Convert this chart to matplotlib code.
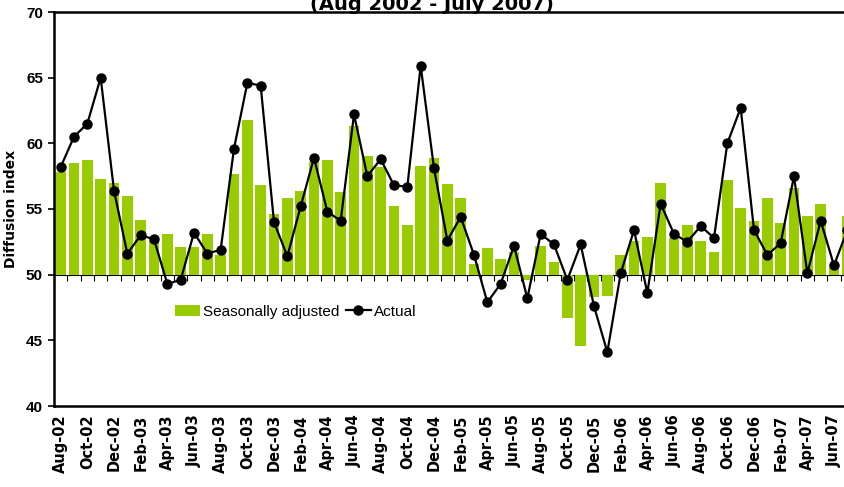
import matplotlib
matplotlib.use("Agg")
import matplotlib.pyplot as plt
import numpy as np

# ---- data ----
actual = [58.2, 60.5, 61.5, 65.0, 56.4, 51.6, 53.0, 52.7, 49.3, 49.6,
          53.2, 51.6, 51.9, 59.6, 64.6, 64.4, 54.0, 51.4, 55.2, 58.9,
          54.8, 54.1, 62.2, 57.5, 58.8, 56.8, 56.7, 65.9, 58.1, 52.6,
          54.4, 51.5, 47.9, 49.3, 52.2, 48.2, 53.1, 52.3, 49.6, 52.3,
          47.6, 44.1, 50.1, 53.4, 48.6, 55.4, 53.1, 52.5, 53.7, 52.8,
          60.0, 62.7, 53.4, 51.5, 52.4, 57.5, 50.1, 54.1, 50.7, 53.4]
seasonally_adjusted = [57.8, 58.5, 58.7, 57.3, 57.0, 56.0, 54.2, 52.6, 53.1, 52.1,
                       52.1, 53.1, 51.5, 57.7, 61.8, 56.8, 54.6, 55.8, 56.4, 58.6,
                       58.7, 56.3, 61.3, 59.0, 58.2, 55.2, 53.8, 58.3, 58.9, 56.9,
                       55.8, 50.8, 52.0, 51.2, 51.7, 49.6, 52.2, 51.0, 46.7, 44.6,
                       48.3, 48.4, 51.5, 52.6, 52.9, 57.0, 52.8, 53.8, 52.6, 51.7,
                       57.2, 55.1, 54.1, 55.8, 53.9, 56.6, 54.5, 55.4, 50.6, 54.5]
tick_labels = ["Aug-02", "Oct-02", "Dec-02", "Feb-03", "Apr-03", "Jun-03",
               "Aug-03", "Oct-03", "Dec-03", "Feb-04", "Apr-04", "Jun-04",
               "Aug-04", "Oct-04", "Dec-04", "Feb-05", "Apr-05", "Jun-05",
               "Aug-05", "Oct-05", "Dec-05", "Feb-06", "Apr-06", "Jun-06",
               "Aug-06", "Oct-06", "Dec-06", "Feb-07", "Apr-07", "Jun-07"]
baseline = 50

fig = plt.figure(figsize=(8.45, 4.87), dpi=100)
ax = fig.add_axes([54/845, 81/487, 800/845, 394/487])

x = np.arange(len(actual))
bars = ax.bar(x, np.array(seasonally_adjusted) - baseline, bottom=baseline, width=0.8,
              color='#99CC00', label='Seasonally adjusted', zorder=2)
line, = ax.plot(x, actual, color='black', lw=1.6, marker='o', ms=6.5,
                label='Actual', zorder=3)

ax.set_xlim(-0.5, len(actual) - 0.5)
ax.set_ylim(40, 70)
ax.set_yticks(range(40, 71, 5))
for lab in ax.get_yticklabels():
    lab.set_fontfamily('Liberation Sans')
    lab.set_fontweight('bold')
    lab.set_fontsize(11)
ax.tick_params(axis='y', direction='out', length=4, width=1.2, pad=4)

ax.spines['left'].set_linewidth(1.8)
ax.spines['top'].set_linewidth(1.8)
ax.spines['right'].set_visible(False)
ax.spines['bottom'].set_position(('data', baseline))
ax.spines['bottom'].set_linewidth(0.8)
ax.spines['bottom'].set_zorder(1)
ax.set_xticks(np.arange(-0.5, len(actual), 1))
ax.set_xticklabels([])
ax.tick_params(axis='x', direction='out', length=4, width=0.8)

sec = ax.secondary_xaxis(0)
sec.set_xticks(np.arange(0, len(actual), 2))
sec.set_xticklabels(tick_labels, rotation=90, fontsize=10.5, fontweight='bold')
sec.tick_params(length=0, pad=6)
sec.spines['bottom'].set_linewidth(1.8)

ax.set_ylabel('Diffusion index', fontsize=10, fontweight='bold', labelpad=6)

ax.legend(handles=[bars, line], loc='center left', bbox_to_anchor=(0.151, 0.239),
          ncol=2, frameon=False,
          handlelength=1.65, handletextpad=0.2, columnspacing=0.4,
          borderaxespad=0, borderpad=0,
          prop={'family': 'Liberation Sans', 'size': 11})

fig.text(432/845, 1 - 10/487, '(Aug 2002 - July 2007)', ha='center', va='baseline',
         fontsize=14, fontweight='bold')

fig.savefig('out.png', dpi=100)
